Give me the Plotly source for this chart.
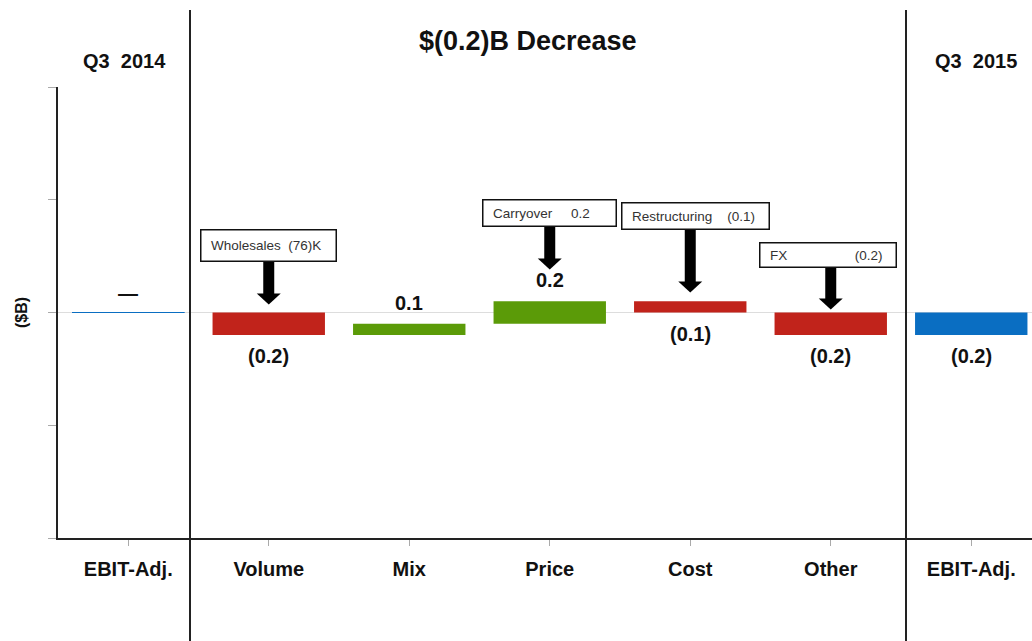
import plotly.graph_objects as go

# ---- data ----
categories = ["EBIT-Adj.", "Volume", "Mix", "Price", "Cost", "Other", "EBIT-Adj."]
start_value = 0.0
deltas = [-0.2, 0.1, 0.2, -0.1, -0.2]
end_value = -0.2
value_labels = ["\u2014", "(0.2)", "0.1", "0.2", "(0.1)", "(0.2)", "(0.2)"]
NB = "\u00a0"
callout_texts = [
    NB * 2 + "Wholesales" + NB * 2 + "(76)K",
    NB * 2 + "Carryover" + NB * 5 + "0.2",
    NB * 2 + "Restructuring" + NB * 4 + "(0.1)",
    NB * 2 + "FX" + NB * 18 + "(0.2)",
]
callout_cats = [1, 3, 4, 5]
period_labels = ["Q3" + NB * 2 + "2014", "Q3" + NB * 2 + "2015"]
header_text = "$(0.2)B Decrease"
y_tick_vals = [-2, -1, 0, 1, 2]

# ---- layout geometry (styling only) ----
W, H = 1032, 641
ML, MT, MB = 58, 87, 103
PW, PH = W - ML, H - MT - MB
XR = [-0.5, -0.5 + PW / 140.5]
YR = [-2, 2]
UNIT = PH / 4.0  # px per unit on y

RED, GREEN, BLUE = "#C1231B", "#5B9B08", "#0A6EC2"
FONT = "Arial, Liberation Sans, sans-serif"

def px_to_paper_x(px):
    return (px - ML) / PW

def px_to_paper_y(py):
    return (H - MB - py) / PH

# waterfall bases / heights
xs = list(range(len(categories)))
bases, heights, colors = [], [], []
bases.append(0.0); heights.append(start_value); colors.append(BLUE)
running = start_value
for d in deltas:
    if d >= 0:
        bases.append(running); heights.append(d); colors.append(GREEN if d > 0 else RED)
    else:
        bases.append(running + d); heights.append(-d); colors.append(RED)
    running += d
bases.append(min(0.0, end_value)); heights.append(abs(end_value)); colors.append(BLUE)
signed = [start_value] + deltas + [end_value]

fig = go.Figure()
fig.add_trace(go.Bar(
    x=xs, y=heights, base=bases, width=0.8,
    marker=dict(color=colors, line=dict(color=colors, width=[1] + [0] * (len(xs) - 1))),
    hoverinfo="skip", showlegend=False,
))

annotations = []
# value labels
for i, (lab, v) in enumerate(zip(value_labels, signed)):
    top = bases[i] + heights[i]
    bottom = bases[i]
    if i == 0:
        yv, ys = top, 20
    elif v > 0 and 0 < i < len(xs) - 1:
        yv, ys = top, 21
    else:
        yv, ys = bottom, -21
    annotations.append(dict(x=i, y=yv, xref="x", yref="y", text=f"<b>{lab}</b>", showarrow=False,
                            yshift=ys, xanchor="center", yanchor="middle",
                            font=dict(family=FONT, size=20, color="#111111")))

# callout boxes + arrows
box_y = [0.594, 0.883, 0.856, 0.51]
box_w = [130, 128, 142, 131]
box_h = [26, 21, 21, 19]
box_dx = [0.0, 0.0, 0.04, -0.02]
arrow_top = [0.452, 0.763, 0.736, 0.40]
arrow_tip = [0.071, 0.381, 0.177, 0.027]
shapes = []
half_shaft = 5.5 / 140.5
half_head = 12 / 140.5
head_h = 11 / UNIT
for k, c in enumerate(callout_cats):
    annotations.append(dict(x=c + box_dx[k], y=box_y[k], xref="x", yref="y",
                            text=callout_texts[k], showarrow=False, align="left",
                            xanchor="center", yanchor="middle",
                            width=box_w[k], height=box_h[k], borderpad=2,
                            bordercolor="#111111", borderwidth=1.5, bgcolor="white",
                            font=dict(family=FONT, size=13.5, color="#333333")))
    shapes.append(dict(type="rect", xref="x", yref="y", x0=c - half_shaft, x1=c + half_shaft,
                       y0=arrow_tip[k] + head_h * 0.95, y1=arrow_top[k],
                       fillcolor="black", line=dict(width=0)))
    shapes.append(dict(type="path", xref="x", yref="y",
                       path=f"M {c - half_head} {arrow_tip[k] + head_h} L {c + half_head} {arrow_tip[k] + head_h} L {c} {arrow_tip[k]} Z",
                       fillcolor="black", line=dict(width=0)))

# divider lines
for px in (190, 906):
    shapes.append(dict(type="line", xref="paper", yref="paper",
                       x0=px_to_paper_x(px), x1=px_to_paper_x(px),
                       y0=px_to_paper_y(H + 5), y1=px_to_paper_y(10),
                       line=dict(color="#222222", width=2)))

def header(px, py, text, size, angle=0):
    return dict(x=px_to_paper_x(px), y=px_to_paper_y(py), xref="paper", yref="paper",
                text=f"<b>{text}</b>", showarrow=False, textangle=angle,
                xanchor="center", yanchor="middle",
                font=dict(family=FONT, size=size, color="#111111"))

annotations.append(header(124, 61, period_labels[0], 20))
annotations.append(header(976, 61, period_labels[1], 20))
annotations.append(header(528, 41, header_text, 27))
annotations.append(header(21, 313, "($B)", 16, -90))

fig.update_layout(
    width=W, height=H,
    margin=dict(l=ML, r=0, t=MT, b=MB),
    paper_bgcolor="white", plot_bgcolor="white",
    showlegend=False,
    annotations=annotations, shapes=shapes,
    xaxis=dict(range=XR, tickvals=xs, ticktext=[f"<b>{c}</b>" for c in categories],
               showgrid=False, zeroline=False, showline=True, linecolor="#222222", linewidth=2,
               ticks="outside", ticklen=6, tickcolor="#aaaaaa", tickwidth=1,
               ticklabelstandoff=6,
               tickfont=dict(family=FONT, size=20, color="#111111")),
    yaxis=dict(range=YR, tickvals=y_tick_vals, showticklabels=False,
               showgrid=False, zeroline=True, zerolinecolor="#dddddd", zerolinewidth=1,
               showline=True, linecolor="#222222", linewidth=2,
               ticks="outside", ticklen=8, tickcolor="#aaaaaa", tickwidth=1),
)

fig.write_html("out.html")
